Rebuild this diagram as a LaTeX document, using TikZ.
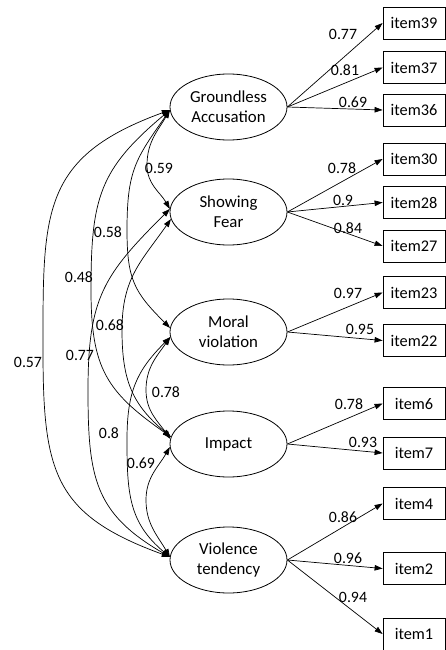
\documentclass[tikz,border=0pt]{standalone}
\usepackage{fontspec}
\setmainfont{Carlito}
\usetikzlibrary{arrows.meta,shapes.geometric}
\begin{document}
\begin{tikzpicture}[x=1pt,y=1pt,
  latent/.style={ellipse, draw, line width=0.8pt, minimum width=117pt, minimum height=66pt, inner sep=0pt, align=center, font=\fontsize{16.8}{20}\selectfont},
  itembox/.style={rectangle, draw, line width=0.8pt, minimum width=62pt, minimum height=32pt, inner sep=0pt, font=\fontsize{16.3}{19}\selectfont},
  tip/.tip={Triangle[length=8pt,width=5.5pt]},
  load/.style={draw, line width=0.7pt, -tip},
  cov/.style={draw, line width=0.7pt, tip-tip},
  lab/.style={inner sep=0pt, font=\fontsize{15.8}{18}\selectfont}]
\useasboundingbox (0,-650) rectangle (446,0);
% latent factors
\node[latent] (G) at (228.5,-107) {Groundless\\Accusation};
\node[latent] (S) at (228.5,-212) {Showing\\Fear};
\node[latent] (M) at (228.5,-332) {Moral\\violation};
\node[latent] (I) at (228.5,-444) {Impact};
\node[latent] (V) at (228.5,-560) {Violence\\tendency};
% items
\node[itembox] (i39) at (414,-23) {item39};
\node[itembox] (i37) at (414,-67.5) {item37};
\node[itembox] (i36) at (414,-110) {item36};
\node[itembox] (i30) at (414,-159) {item30};
\node[itembox] (i28) at (414,-202.5) {item28};
\node[itembox] (i27) at (414,-246) {item27};
\node[itembox] (i23) at (414,-292.5) {item23};
\node[itembox] (i22) at (414,-340.5) {item22};
\node[itembox] (i6) at (414,-403.5) {item6};
\node[itembox] (i7) at (414,-453) {item7};
\node[itembox] (i4) at (414,-503.5) {item4};
\node[itembox] (i2) at (414,-568.5) {item2};
\node[itembox] (i1) at (414,-634) {item1};
% loadings
\draw[load] (G.east) -- (i39.west);
\draw[load] (G.east) -- (i37.west);
\draw[load] (G.east) -- (i36.west);
\draw[load] (S.east) -- (i30.west);
\draw[load] (S.east) -- (i28.west);
\draw[load] (S.east) -- (i27.west);
\draw[load] (M.east) -- (i23.west);
\draw[load] (M.east) -- (i22.west);
\draw[load] (I.east) -- (i6.west);
\draw[load] (I.east) -- (i7.west);
\draw[load] (V.east) -- (i4.west);
\draw[load] (V.east) -- (i2.west);
\draw[load] (V.east) -- (i1.west);
\node[lab] (l39) at (343,-34) {0.77};
\node[lab] (l37) at (345,-70) {0.81};
\node[lab] (l36) at (353,-102) {0.69};
\node[lab] (l30) at (342,-168) {0.78};
\node[lab] (l28) at (343,-200) {0.9};
\node[lab] (l27) at (348,-228) {0.84};
\node[lab] (l23) at (348,-293) {0.97};
\node[lab] (l22) at (360,-329) {0.95};
\node[lab] (l6) at (349,-404) {0.78};
\node[lab] (l7) at (363,-442) {0.93};
\node[lab] (l4) at (343,-517) {0.86};
\node[lab] (l2) at (348,-558) {0.96};
\node[lab] (l1) at (353,-597) {0.94};
% covariance turning points
\coordinate (mGS) at (147,-165);
\coordinate (mGM) at (127,-230);
\coordinate (mGI) at (91,-290);
\coordinate (mGV) at (43,-350);
\coordinate (mSI) at (122,-330);
\coordinate (mSV) at (88,-390);
\coordinate (mMI) at (146,-390);
\coordinate (mMV) at (127,-440);
\coordinate (mIV) at (146,-500);
% covariances
\draw[cov] (G.183) to[out=240,in=90] (mGS) to[out=-90,in=120] (S.177);
\draw[cov] (G.183) to[out=235,in=90,looseness=1.2] (mGM) to[out=-90,in=135,looseness=1.2] (M.176);
\draw[cov] (G.183) to[out=220,in=90,looseness=1.2] (mGI) to[out=-90,in=145,looseness=1.2] (I.173);
\draw[cov] (G.183) to[out=200,in=90,looseness=1.3] (mGV) to[out=-90,in=160,looseness=1.3] (V.177);
\draw[cov] (S.187) to[out=235,in=90,looseness=1.1] (mSI) to[out=-90,in=140,looseness=1.1] (I.173);
\draw[cov] (S.177) to[out=225,in=90,looseness=1.2] (mSV) to[out=-90,in=150,looseness=1.2] (V.177);
\draw[cov] (M.185) to[out=235,in=90] (mMI) to[out=-90,in=125] (I.175);
\draw[cov] (M.185) to[out=225,in=90,looseness=1.1] (mMV) to[out=-90,in=140,looseness=1.1] (V.177);
\draw[cov] (I.183) to[out=240,in=90] (mIV) to[out=-90,in=120] (V.177);
\node[lab] (cGS) at (159,-168) {0.59};
\node[lab] (cGM) at (108,-232) {0.58};
\node[lab] (cGI) at (79,-277) {0.48};
\node[lab] (cSI) at (110,-325) {0.68};
\node[lab] (cSV) at (80,-355) {0.77};
\node[lab] (cGV) at (28,-362) {0.57};
\node[lab] (cMI) at (166,-392) {0.78};
\node[lab] (cMV) at (109,-433) {0.8};
\node[lab] (cIV) at (141,-463) {0.69};
\end{tikzpicture}
\end{document}
